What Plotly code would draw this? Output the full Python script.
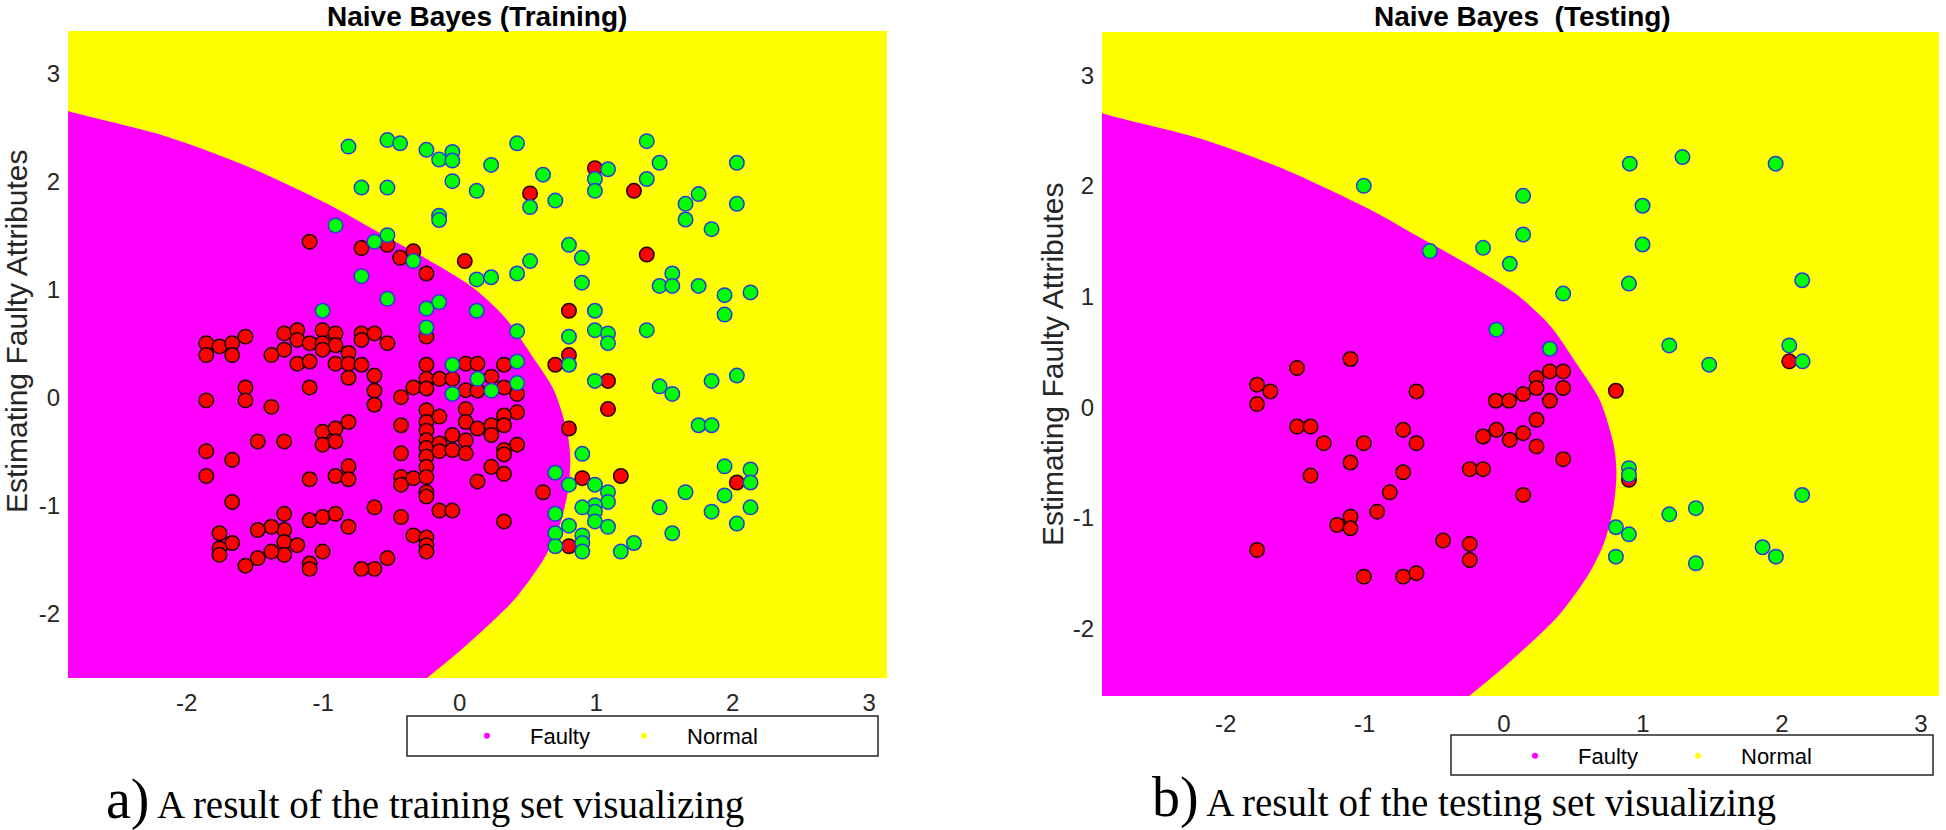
import plotly.graph_objects as go

# ---------------- data ----------------
train_faulty_x = [-1.10, -0.72, -0.53, -0.437, -0.34, -0.244, 0.037, -0.244,
                  -1.857, -1.76, -1.667, -1.57, -1.857, -1.667, -1.286, -1.19, -1.19, -1.286, -1.10, -1.005,
                  -0.91, -1.005, -0.91, -1.005, -0.815, -0.72, -0.625, -0.72, -0.53, -1.38,
                  0.99, 0.515, 1.276, 1.37, 0.80, 0.80,
                  -1.19, -1.10, -0.91, -0.815, -0.72, -0.625, -0.815, -0.625, -0.625, -1.10, -1.57, -1.57,
                  -1.857, -1.38, -0.43, -0.34, -0.244, -0.244, -0.244, -0.149, -0.054, 0.044, 0.044, 0.13, 0.13,
                  -0.43, -0.43, -0.43, -0.43, -0.34, -0.43, -0.244, -0.244, -0.244, -0.244, -0.244, -0.244,
                  -0.244, -0.244, -0.244, -0.244, -0.149, -0.149, -0.149, -0.054, -0.054, 0.044, 0.044, 0.044,
                  0.044, 0.13, 0.13, -0.149, -0.054, -0.34, -0.244, -0.244, -0.244, -0.625, -0.815, -0.53,
                  -0.625, -0.72, -1.005, -1.10, -1.005, -0.91, -1.10, -1.10, -1.286, -1.286, -1.286, -1.286,
                  -1.19, -1.38, -1.38, -1.48, -1.48, -1.57, -1.667, -1.76, -1.76, -1.76, -1.667, -1.857,
                  -1.857, -1.667, -1.48, -1.286, -1.10, -1.005, -1.005, -0.91, -0.91, -0.815, -0.815, -0.91, -0.815,
                  0.232, 0.324, 0.324, 0.42, 0.42, 0.324, 0.232, 0.324, 0.232, 0.42, 0.324, 0.324, 0.232, 0.324,
                  0.61, 0.324, 0.70, 0.80, 1.086, 1.086, 0.898, 1.18, 0.80, 2.03]
train_faulty_y = [1.44, 1.38, 1.41, 1.29, 1.35, 1.145, 1.26, 0.56,
                  0.50, 0.47, 0.50, 0.56, 0.39, 0.39, 0.59, 0.62, 0.53, 0.44, 0.50, 0.62,
                  0.59, 0.50, 0.48, 0.44, 0.41, 0.59, 0.59, 0.53, 0.50, 0.39,
                  2.12, 1.886, 1.91, 1.32, 0.80, 0.39,
                  0.31, 0.33, 0.31, 0.31, 0.30, 0.20, 0.18, 0.06, -0.07, 0.09, 0.09, -0.03,
                  -0.03, -0.09, 0.0, 0.09, 0.30, 0.17, 0.08, 0.17, 0.17, 0.31, 0.065, 0.31, 0.06,
                  -0.26, -0.52, -0.74, -0.81, -0.75, -1.11, -0.12, -0.23, -0.31, -0.40, -0.47, -0.55,
                  -0.645, -0.74, -0.88, -0.92, -0.18, -0.43, -0.50, -0.35, -0.49, -0.11, -0.23, -0.40,
                  -0.52, -0.29, -0.78, -1.05, -1.05, -1.28, -1.30, -1.37, -1.43, -1.02, -1.20, -1.49,
                  -1.59, -1.59, -1.43, -1.14, -1.11, -1.08, -1.54, -1.59, -1.08, -1.23, -1.34, -1.46,
                  -1.37, -1.20, -1.43, -1.23, -1.49, -1.56, -1.35, -1.26, -1.40, -1.46, -0.97, -0.73,
                  -0.50, -0.58, -0.41, -0.41, -0.76, -0.32, -0.44, -0.29, -0.41, -0.23, -0.64, -0.73, -0.76,
                  0.19, 0.30, 0.09, 0.03, -0.14, -0.17, -0.26, -0.26, -0.35, -0.44, -0.49, -0.53, -0.645, -0.71,
                  -0.88, -1.15, 0.30, -0.29, 0.15, -0.11, -0.75, -0.73, -1.38, -0.79]

train_normal_x = [-0.815, -0.53, -0.437, -0.244, -0.151, -0.054, -0.054, -0.054, 0.124, -0.72, -0.53,
                  -0.151, -0.151, -0.91, -0.625, -0.53, -0.34, -0.72, 0.124, -0.53, -0.151, -0.244, -1.005,
                  0.124, -0.244,
                  0.42, 0.23, 0.61, 0.70, 0.515, 0.99, 0.99, 1.086, 1.37, 1.464, 1.37, 2.03, 1.75, 1.654,
                  1.654, 2.03, 1.845, 0.80, 0.895, 0.515, 0.42, 0.23, 0.895, 1.557, 1.464, 1.557, 1.75, 1.94,
                  2.13, 1.94, 0.99, 0.42, 0.80, 0.99, 1.086, 1.086, 1.37,
                  -0.054, -0.054, 0.13,
                  0.42, 0.232, 0.42, 0.80, 0.99, 1.464, 1.557, 1.845, 2.03, 1.75, 1.845, 0.898, 0.70, 0.80,
                  0.99, 1.086, 1.086, 0.99, 0.99, 0.99, 0.898, 1.086, 0.70, 0.80, 0.70, 0.898, 0.898, 0.70,
                  0.898, 1.18, 1.276, 1.557, 1.654, 1.464, 1.94, 2.13, 2.13, 1.94, 1.845, 2.13, 2.03]
train_normal_y = [2.32, 2.38, 2.35, 2.29, 2.20, 2.27, 2.19, 2.0, 1.91, 1.94, 1.94,
                  1.68, 1.64, 1.59, 1.44, 1.50, 1.26, 1.12, 1.09, 0.91, 0.88, 0.82, 0.80,
                  0.80, 0.645,
                  2.35, 2.15, 2.06, 1.82, 1.76, 2.02, 1.91, 2.11, 2.37, 2.17, 2.02, 2.17, 1.88, 1.79,
                  1.645, 1.79, 1.555, 1.41, 1.29, 1.26, 1.145, 1.11, 1.06, 1.145, 1.03, 1.03, 1.03, 0.944,
                  0.97, 0.765, 0.80, 0.61, 0.56, 0.62, 0.59, 0.50, 0.62,
                  0.30, 0.03, 0.17,
                  0.33, 0.06, 0.13, 0.30, 0.15, 0.10, 0.03, 0.15, 0.20, -0.26, -0.26, -0.525, -0.70, -0.81,
                  -0.81, -0.88, -0.97, -1.0, -1.06, -1.15, -1.02, -1.20, -1.08, -1.19, -1.26, -1.28, -1.35, -1.38,
                  -1.43, -1.43, -1.35, -1.26, -0.88, -1.02, -0.64, -0.67, -0.79, -0.91, -1.06, -1.02, -1.17]

test_faulty_x = [-1.103, -1.487, -1.775, -1.679, -1.775, -0.628, -0.058, 0.038, -1.487, -1.39, -1.295,
                 -1.007, -0.724, -0.628, -0.149, -0.053, 0.043, -1.103, -1.39, -0.724, -0.245, -0.149,
                 -0.82, -0.911, -1.103, -1.199, -1.103, -1.775, -0.437, -0.245, -0.245, -1.007, -0.724, -0.628,
                 0.331, 0.427, 0.235, 0.235, 0.427, 0.139, 0.331, 0.806, 0.235, 0.139, 0.235, 0.427, 0.139,
                 0.90, 2.053]
test_faulty_y = [0.435, 0.354, 0.203, 0.142, 0.028, 0.142, 0.058, 0.058, -0.175, -0.175, -0.325,
                 -0.325, -0.205, -0.325, -0.265, -0.205, -0.295, -0.50, -0.618, -0.588, -0.56, -0.56,
                 -0.77, -0.944, -0.99, -1.064, -1.094, -1.29, -1.206, -1.236, -1.381, -1.532, -1.532, -1.50,
                 0.323, 0.323, 0.263, 0.173, 0.173, 0.118, 0.058, 0.148, -0.114, -0.235, -0.355, -0.47, -0.793,
                 -0.657, 0.414]

test_normal_x = [-1.007, -0.532, -0.149, 0.043, -0.053,
                 0.906, 1.285, 1.955, 0.139, 0.998, 0.139, 0.998, 0.90, 0.427, 2.146, 0.331, 1.19, 1.477,
                 2.053, 2.149, 0.90, 0.90, 2.146, 1.19, 1.381, 0.806, 0.90, 0.806, 1.381, 1.861, 1.957]
test_normal_y = [2.0, 1.41, 1.44, 1.295, 0.70,
                 2.20, 2.26, 2.20, 1.91, 1.82, 1.56, 1.47, 1.117, 1.026, 1.147, 0.528, 0.558, 0.384,
                 0.558, 0.414, -0.551, -0.612, -0.793, -0.968, -0.913, -1.085, -1.149, -1.351, -1.411,
                 -1.266, -1.351]

# decision boundary of the classifier (bottom -> top)
boundary_x = [-0.25, 0.0, 0.27, 0.41, 0.61, 0.72, 0.79, 0.81, 0.79, 0.69, 0.52, 0.33, 0.09,
              -0.23, -0.60, -0.97, -1.58, -2.19, -2.87]
boundary_y = [-2.61, -2.35, -2.04, -1.86, -1.51, -1.23, -0.89, -0.58, -0.34, 0.065, 0.40, 0.74,
              1.02, 1.27, 1.53, 1.79, 2.15, 2.43, 2.65]

x_ticks = [-2, -1, 0, 1, 2, 3]
y_ticks = [-2, -1, 0, 1, 2, 3]
tick_labels = ["-2", "-1", "0", "1", "2", "3"]
class_names = ["Faulty", "Normal"]
region_colors = ["#ff00ff", "#ffff00"]

# ---------------- figure ----------------
W, H = 1946, 830


def px(X):
    return X / W


def py(Y):
    return 1 - Y / H


fig = go.Figure()

panels = [
    dict(xa="x", ya="y", fx=train_faulty_x, fy=train_faulty_y, nx=train_normal_x, ny=train_normal_y,
         legend="legend"),
    dict(xa="x2", ya="y2", fx=test_faulty_x, fy=test_faulty_y, nx=test_normal_x, ny=test_normal_y,
         legend="legend2"),
]

for p in panels:
    # Faulty decision region (magenta), bounded by the classifier boundary
    reg_x = list(boundary_x) + [-3.6, -3.6, -0.4]
    reg_y = list(boundary_y) + [2.95, -3.0, -3.0]
    fig.add_trace(go.Scatter(x=reg_x, y=reg_y, xaxis=p["xa"], yaxis=p["ya"], mode="lines",
                             fill="toself", fillcolor=region_colors[0],
                             line=dict(color=region_colors[0], width=0, shape="spline", smoothing=0.8),
                             hoverinfo="skip", showlegend=False))
    fig.add_trace(go.Scatter(x=p["fx"], y=p["fy"], xaxis=p["xa"], yaxis=p["ya"], mode="markers",
                             marker=dict(size=14.5, color="#ff0000", line=dict(color="#1a0000", width=1.5)),
                             name="Faulty samples", showlegend=False))
    fig.add_trace(go.Scatter(x=p["nx"], y=p["ny"], xaxis=p["xa"], yaxis=p["ya"], mode="markers",
                             marker=dict(size=14.5, color="#00ff00", line=dict(color="#2a3ad8", width=1.5)),
                             name="Normal samples", showlegend=False))
    for name, col in zip(class_names, region_colors):
        fig.add_trace(go.Scatter(x=[None], y=[None], xaxis=p["xa"], yaxis=p["ya"], mode="markers",
                                 marker=dict(size=6, color=col), name=name, legend=p["legend"],
                                 showlegend=True))

tick_font = dict(family="Liberation Sans, Arial, sans-serif", size=24, color="#262626")
common_x = dict(tickvals=x_ticks, ticktext=tick_labels, ticks="", showgrid=False, zeroline=False,
                showline=False, tickfont=tick_font)
common_y = dict(tickvals=y_ticks, ticktext=tick_labels, ticks="", showgrid=False, zeroline=False,
                showline=False, tickfont=tick_font, ticklabelstandoff=7)

legend_font = dict(family="Liberation Sans, Arial, sans-serif", size=22, color="#000000")
fig.update_layout(
    width=W, height=H, margin=dict(l=0, r=0, t=0, b=0),
    paper_bgcolor="white", plot_bgcolor="#ffff00",
    xaxis=dict(common_x, domain=[px(68), px(887)], range=[-2.87, 3.13], anchor="y", ticklabelstandoff=8),
    yaxis=dict(common_y, domain=[py(678), py(31)], range=[-2.60, 3.39], anchor="x"),
    xaxis2=dict(common_x, domain=[px(1102), px(1939)], range=[-2.89, 3.13], anchor="y2",
                ticklabelstandoff=11),
    yaxis2=dict(common_y, domain=[py(696), py(32)], range=[-2.61, 3.39], anchor="x2"),
    legend=dict(orientation="h", x=px(444), xanchor="left", y=py(736), yanchor="middle",
                font=legend_font, bgcolor="rgba(0,0,0,0)", borderwidth=0, itemwidth=76,
                entrywidth=66, entrywidthmode="pixels"),
    legend2=dict(orientation="h", x=px(1492), xanchor="left", y=py(756), yanchor="middle",
                 font=legend_font, bgcolor="rgba(0,0,0,0)", borderwidth=0, itemwidth=76,
                 entrywidth=72, entrywidthmode="pixels"),
    showlegend=True,
)

# legend frames
fig.add_shape(type="rect", xref="paper", yref="paper", x0=px(407), x1=px(878), y0=py(756), y1=py(716),
              line=dict(color="#262626", width=1.5), fillcolor="rgba(0,0,0,0)")
fig.add_shape(type="rect", xref="paper", yref="paper", x0=px(1451), x1=px(1933), y0=py(775), y1=py(735),
              line=dict(color="#262626", width=1.5), fillcolor="rgba(0,0,0,0)")

# titles
title_font = dict(family="Liberation Sans, Arial, sans-serif", size=28, color="#000000")
fig.add_annotation(text="<b>Naive Bayes (Training)</b>", xref="paper", yref="paper", x=px(477), y=py(16),
                   xanchor="center", yanchor="middle", showarrow=False, font=title_font)
fig.add_annotation(text="<b>Naive Bayes\u00a0 (Testing)</b>", xref="paper", yref="paper", x=px(1522),
                   y=py(17), xanchor="center", yanchor="middle", showarrow=False, font=title_font)

# y-axis labels
ylab_font = dict(family="Liberation Sans, Arial, sans-serif", size=30, color="#262626")
fig.add_annotation(text="Estimating Faulty Attributes", xref="paper", yref="paper", x=px(16), y=py(331),
                   xanchor="center", yanchor="middle", textangle=-90, showarrow=False, font=ylab_font)
fig.add_annotation(text="Estimating Faulty Attributes", xref="paper", yref="paper", x=px(1052), y=py(364),
                   xanchor="center", yanchor="middle", textangle=-90, showarrow=False, font=ylab_font)

# captions
cap_font = dict(family="Liberation Serif, Times New Roman, serif", size=39, color="#000000")
fig.add_annotation(text="<span style='font-size:56px'>a)</span> A result of the training set visualizing",
                   xref="paper", yref="paper", x=px(105), y=py(832), xanchor="left", yanchor="bottom",
                   showarrow=False, font=cap_font, borderpad=0)
fig.add_annotation(text="<span style='font-size:56px'>b)</span> A result of the testing set visualizing",
                   xref="paper", yref="paper", x=px(1151), y=py(830), xanchor="left", yanchor="bottom",
                   showarrow=False, font=cap_font, borderpad=0)

# the page body's default 8 px margin would push the full-window figure off the view
fig.write_html("out.html", config={"displayModeBar": False},
               post_script="document.body.style.margin='0px';")
